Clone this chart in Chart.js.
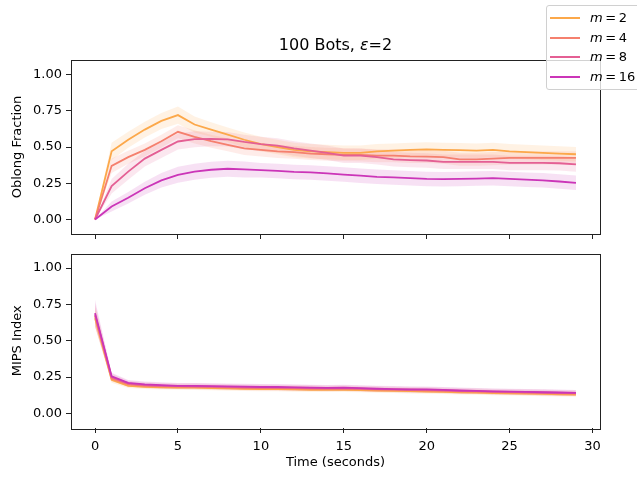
<!DOCTYPE html>
<html><head><meta charset="utf-8">
<script src="https://cdn.jsdelivr.net/npm/chart.js@4.4.0/dist/chart.umd.min.js"></script>
<style>
body{margin:0;background:#fff;width:637px;height:477px;position:relative;overflow:hidden;font-family:"DejaVu Sans",sans-serif;}
canvas{position:absolute;left:0;}
#c1{top:0}
#c2{top:245px}
#title{position:absolute;left:0;width:671px;top:35px;text-align:center;font-size:16px;line-height:19px;color:#000;}
#legend{position:absolute;left:546px;top:5px;width:100px;height:85px;border:1px solid #d0d0d0;border-radius:3px;background:rgba(255,255,255,0.8);box-sizing:border-box;}
.item{position:absolute;left:3px;width:95px;height:16px;}
.sw{position:absolute;left:0;top:7px;width:30px;height:2px;}
.lab{position:absolute;left:40px;top:-1px;font-size:13px;line-height:17px;color:#000;white-space:nowrap;}
</style></head>
<body>
<canvas id="c1" width="637" height="250"></canvas>
<canvas id="c2" width="637" height="232"></canvas>
<div id="title">100 Bots, <i>ε</i>=2</div>
<div id="legend"></div>
<script>
const times = [0,1,2,3,4,5,6,7,8,9,10,11,12,13,14,15,16,17,18,19,20,21,22,23,24,25,26,27,28,29];
const seriesNames = ["m = 2","m = 4","m = 8","m = 16"];
const seriesColors = ["#fca84a","#f5806e","#e45f94","#cb35b8"];
const xTicks = [0,5,10,15,20,25,30];
const yTicks = [0,0.25,0.5,0.75,1.0];

// Oblong Fraction means
const oblongM2  = [0,0.47,0.55,0.62,0.68,0.72,0.655,0.62,0.585,0.55,0.52,0.50,0.48,0.47,0.465,0.46,0.46,0.47,0.475,0.48,0.483,0.48,0.478,0.475,0.48,0.47,0.465,0.46,0.455,0.45];
const oblongM4  = [0,0.37,0.43,0.48,0.54,0.605,0.57,0.54,0.515,0.49,0.48,0.47,0.464,0.455,0.45,0.446,0.445,0.44,0.44,0.435,0.434,0.43,0.415,0.415,0.42,0.425,0.425,0.425,0.425,0.425];
const oblongM8  = [0,0.23,0.33,0.42,0.48,0.538,0.554,0.555,0.553,0.535,0.52,0.51,0.49,0.475,0.46,0.44,0.44,0.43,0.415,0.41,0.407,0.398,0.398,0.398,0.398,0.39,0.39,0.39,0.388,0.38];
const oblongM16 = [0,0.09,0.15,0.216,0.27,0.308,0.33,0.343,0.35,0.345,0.34,0.335,0.328,0.325,0.318,0.31,0.302,0.294,0.29,0.285,0.28,0.278,0.28,0.282,0.285,0.28,0.275,0.27,0.262,0.253];
// Oblong Fraction band half-widths
const oblongSpreadM2  = [0,0.06,0.055,0.055,0.055,0.06,0.055,0.05,0.05,0.05,0.05,0.05,0.05,0.05,0.05,0.05,0.05,0.05,0.05,0.05,0.05,0.05,0.05,0.05,0.05,0.05,0.05,0.05,0.05,0.05];
const oblongSpreadM4  = [0,0.05,0.045,0.045,0.045,0.045,0.045,0.045,0.045,0.045,0.045,0.045,0.045,0.045,0.045,0.045,0.045,0.045,0.045,0.045,0.045,0.045,0.045,0.045,0.045,0.045,0.045,0.045,0.045,0.045];
const oblongSpreadM8  = [0,0.05,0.055,0.055,0.055,0.055,0.055,0.05,0.05,0.05,0.05,0.05,0.05,0.05,0.05,0.05,0.05,0.05,0.05,0.05,0.05,0.05,0.05,0.05,0.05,0.05,0.05,0.05,0.05,0.05];
const oblongSpreadM16 = [0,0.035,0.04,0.045,0.05,0.055,0.055,0.055,0.055,0.055,0.05,0.05,0.05,0.05,0.05,0.05,0.05,0.05,0.05,0.05,0.05,0.05,0.05,0.05,0.05,0.05,0.05,0.05,0.05,0.05];

// MIPS Index means
const mipsM2  = [0.655,0.232,0.19,0.183,0.18,0.178,0.177,0.175,0.172,0.17,0.168,0.167,0.165,0.163,0.162,0.163,0.16,0.157,0.155,0.153,0.15,0.148,0.145,0.143,0.14,0.138,0.136,0.134,0.132,0.13];
const mipsM4  = [0.67,0.24,0.2,0.19,0.186,0.184,0.183,0.181,0.178,0.176,0.175,0.174,0.172,0.17,0.169,0.17,0.167,0.164,0.162,0.16,0.158,0.155,0.152,0.15,0.147,0.145,0.143,0.141,0.139,0.137];
const mipsM8  = [0.68,0.25,0.205,0.195,0.19,0.188,0.187,0.185,0.183,0.18,0.179,0.178,0.177,0.175,0.173,0.174,0.171,0.168,0.165,0.163,0.162,0.159,0.155,0.153,0.15,0.148,0.146,0.144,0.142,0.14];
const mipsM16 = [0.69,0.255,0.21,0.2,0.195,0.19,0.19,0.188,0.186,0.184,0.182,0.182,0.18,0.178,0.176,0.177,0.174,0.17,0.168,0.166,0.165,0.162,0.158,0.155,0.152,0.15,0.148,0.146,0.144,0.142];
// MIPS band half-widths
const mipsSpreadM2  = [0.06,0.02,0.015,0.015,0.015,0.015,0.015,0.015,0.015,0.015,0.015,0.015,0.015,0.015,0.015,0.015,0.015,0.015,0.015,0.015,0.015,0.015,0.015,0.015,0.015,0.015,0.015,0.015,0.015,0.015];
const mipsSpreadM4  = [0.07,0.02,0.015,0.015,0.015,0.015,0.015,0.015,0.015,0.015,0.015,0.015,0.015,0.015,0.015,0.015,0.015,0.015,0.015,0.015,0.015,0.015,0.015,0.015,0.015,0.015,0.015,0.015,0.015,0.015];
const mipsSpreadM8  = [0.08,0.025,0.02,0.02,0.02,0.02,0.02,0.02,0.02,0.02,0.02,0.02,0.02,0.02,0.02,0.02,0.02,0.02,0.02,0.02,0.02,0.02,0.02,0.02,0.02,0.02,0.02,0.02,0.02,0.02];
const mipsSpreadM16 = [0.09,0.025,0.02,0.02,0.02,0.02,0.02,0.02,0.02,0.02,0.02,0.02,0.02,0.02,0.02,0.02,0.02,0.02,0.02,0.02,0.02,0.02,0.02,0.02,0.02,0.02,0.02,0.02,0.02,0.02];

function hexA(hex, a){
  const n=parseInt(hex.slice(1),16);
  return `rgba(${(n>>16)&255},${(n>>8)&255},${n&255},${a})`;
}
function buildDatasets(means, spreads){
  const ds=[];
  means.forEach((m,k)=>{
    const col=seriesColors[k];
    const lowIdx=ds.length;
    ds.push({data:times.map((t,i)=>({x:t,y:m[i]-spreads[k][i]})),borderWidth:0,pointRadius:0,backgroundColor:'rgba(0,0,0,0)',fill:false,order:10});
    ds.push({data:times.map((t,i)=>({x:t,y:m[i]+spreads[k][i]})),borderWidth:0,pointRadius:0,backgroundColor:hexA(col,0.15),fill:{target:lowIdx},order:10});
    ds.push({data:times.map((t,i)=>({x:t,y:m[i]})),borderColor:col,borderWidth:1.8,pointRadius:0,fill:false,tension:0,order:4-k});
  });
  return ds;
}
const framePlugin={id:'frame',afterDraw(chart){
  const {ctx,chartArea:a}=chart;
  ctx.save();ctx.strokeStyle='#222';ctx.lineWidth=1;
  ctx.strokeRect(Math.round(a.left)+0.5,Math.round(a.top)+0.5,Math.round(a.right-a.left),Math.round(a.bottom-a.top));
  ctx.restore();
}};
const F={family:'DejaVu Sans',size:13};
function makeChart(id, datasets, yLabel, showX, padTop, xHeight){
  return new Chart(document.getElementById(id),{
    type:'line',
    data:{datasets},
    options:{
      responsive:false,animation:false,devicePixelRatio:1,
      layout:{padding:{top:padTop,right:37,left:0,bottom:0}},
      plugins:{legend:{display:false},tooltip:{enabled:false},filler:{drawTime:'beforeDatasetsDraw'}},
      scales:{
        x:{type:'linear',min:-1.45,max:30.45,
          afterBuildTicks:s=>{s.ticks=xTicks.map(v=>({value:v}));},
          afterFit:s=>{s.height=xHeight;s.paddingLeft=0;s.paddingRight=0;},
          grid:{drawOnChartArea:false,drawTicks:true,tickLength:5,tickColor:'#222'},
          border:{display:false},
          ticks:{display:showX,padding:6,color:'#000',font:F,callback:v=>String(v),maxRotation:0},
          title:{display:showX,text:'Time (seconds)',color:'#000',font:F,padding:{top:0,bottom:6.5}}
        },
        y:{min:-0.1,max:1.1,
          afterBuildTicks:s=>{s.ticks=yTicks.map(v=>({value:v}));},
          afterFit:s=>{s.width=71;s.paddingTop=0;s.paddingBottom=0;},
          grid:{drawOnChartArea:false,drawTicks:true,tickLength:5,tickColor:'#222'},
          border:{display:false},
          ticks:{padding:4,color:'#000',font:F,callback:v=>v.toFixed(2)},
          title:{display:true,text:yLabel,color:'#000',font:F,padding:{top:10,bottom:0}}
        }
      }
    },
    plugins:[framePlugin]
  });
}
makeChart('c1',buildDatasets([oblongM2,oblongM4,oblongM8,oblongM16],[oblongSpreadM2,oblongSpreadM4,oblongSpreadM8,oblongSpreadM16]),'Oblong Fraction',false,60,16);
makeChart('c2',buildDatasets([mipsM2,mipsM4,mipsM8,mipsM16],[mipsSpreadM2,mipsSpreadM4,mipsSpreadM8,mipsSpreadM16]),'MIPS Index',true,8.5,49);

const leg=document.getElementById('legend');
const legY=[4,23.5,43,62.5];
seriesNames.forEach((n,k)=>{
  const it=document.createElement('div');it.className='item';it.style.top=legY[k]+'px';
  const parts=n.split(' = ');
  it.innerHTML=`<div class="sw" style="background:${seriesColors[k]}"></div><div class="lab"><i>${parts[0]}</i>&#8201;=&#8201;${parts[1]}</div>`;
  leg.appendChild(it);
});
</script>
</body></html>
